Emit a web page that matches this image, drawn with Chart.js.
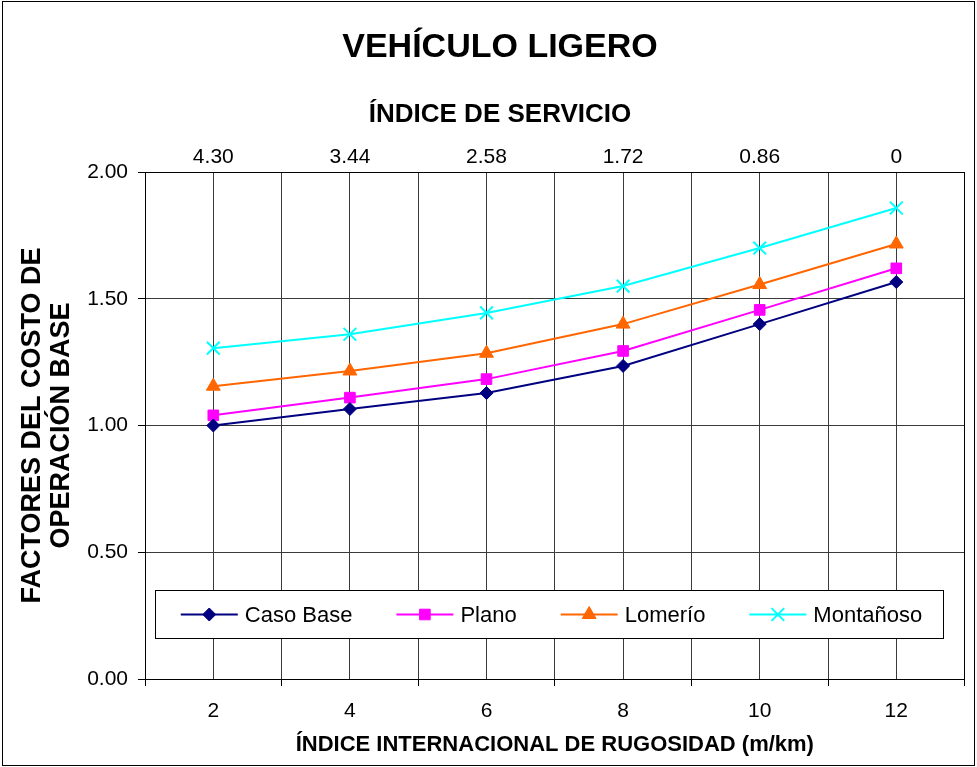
<!DOCTYPE html>
<html>
<head>
<meta charset="utf-8">
<title>Vehículo ligero</title>
<script src="https://cdn.jsdelivr.net/npm/chart.js@4/dist/chart.umd.min.js"></script>
<style>
	html, body { margin: 0; padding: 0; background: #fff; }
	canvas { display: block; }
</style>
</head>
<body>
<canvas id="chart__line--vl" width="977" height="767"></canvas>
<script>
// Data
const iriValues = [2, 4, 6, 8, 10, 12];
const serviceLabels = ["4.30", "3.44", "2.58", "1.72", "0.86", "0"];
const casoBase = [1.0, 1.065, 1.128, 1.235, 1.4, 1.566];
const plano = [1.04, 1.11, 1.183, 1.294, 1.456, 1.62];
const lomerio = [1.155, 1.215, 1.285, 1.4, 1.556, 1.716];
const montanoso = [1.305, 1.36, 1.444, 1.55, 1.7, 1.858];

const FONT = "'Liberation Sans', Arial, sans-serif";
const GRID = "#3a3a3a";

// Pair x and y values for a linear x axis
const toPoints = (values) => values.map((v, i) => ({ x: iriValues[i], y: v }));

const makeSeries = (label, values, color, pointStyle, radius) => ({
	label,
	data: toPoints(values),
	borderColor: color,
	backgroundColor: color,
	borderWidth: 2,
	pointStyle,
	pointRadius: radius,
	pointHoverRadius: radius,
	pointBorderWidth: pointStyle === "crossRot" ? 2 : 1,
	tension: 0,
});

// White page and thin frame round the whole picture
const framePlugin = () => ({
	id: "frame",
	beforeDraw: (chart) => {
		const ctx = chart.ctx;
		ctx.save();
		ctx.fillStyle = "#fff";
		ctx.fillRect(0, 0, chart.width, chart.height);
		ctx.restore();
	},
	afterDraw: (chart) => {
		const ctx = chart.ctx;
		ctx.save();
		ctx.strokeStyle = "#000";
		ctx.lineWidth = 1;
		ctx.strokeRect(2.5, 1.5, chart.width - 5, chart.height - 3);
		ctx.restore();
	},
});

// Boxed legend sitting inside the plot area, near the bottom
const boxLegendPlugin = () => ({
	id: "boxLegend",
	afterDatasetsDraw: (chart) => {
		const ctx = chart.ctx;
		const area = chart.chartArea;
		const box = { x: area.left + 10.5, y: area.bottom - 88.5, w: 788, h: 48 };
		const lineLen = 57;
		const textGap = 7;
		const midY = box.y + box.h / 2;
		ctx.save();
		ctx.fillStyle = "#fff";
		ctx.fillRect(box.x, box.y, box.w, box.h);
		ctx.strokeStyle = "#000";
		ctx.lineWidth = 1;
		ctx.strokeRect(box.x, box.y, box.w, box.h);

		ctx.font = `22px ${FONT}`;
		ctx.textBaseline = "middle";
		ctx.textAlign = "left";
		const sets = chart.data.datasets;
		const widths = sets.map((ds) => ctx.measureText(ds.label).width);
		const itemsW = widths.reduce((a, w) => a + w + lineLen + textGap, 0);
		const gap = 44;
		let x = box.x + (box.w - itemsW - gap * (sets.length - 1)) / 2 + 2;
		sets.forEach((ds, i) => {
			ctx.strokeStyle = ds.borderColor;
			ctx.fillStyle = ds.backgroundColor;
			ctx.lineWidth = 2;
			ctx.beginPath();
			ctx.moveTo(x, midY);
			ctx.lineTo(x + lineLen, midY);
			ctx.stroke();
			ctx.lineWidth = ds.pointBorderWidth;
			Chart.helpers.drawPoint(
				ctx,
				{ pointStyle: ds.pointStyle, radius: ds.pointRadius, borderWidth: ds.pointBorderWidth, rotation: 0 },
				x + lineLen / 2,
				midY
			);
			ctx.fillStyle = "#000";
			ctx.fillText(ds.label, x + lineLen + textGap, midY + 1);
			x += lineLen + textGap + widths[i] + gap;
		});
		ctx.restore();
	},
});

const getData = () => ({
	datasets: [
		makeSeries("Caso Base", casoBase, "#000080", "rectRot", 6.5),
		makeSeries("Plano", plano, "#FF00FF", "rect", 7.5),
		makeSeries("Lomerío", lomerio, "#FF6600", "triangle", 8),
		makeSeries("Montañoso", montanoso, "#00FFFF", "crossRot", 9),
	],
});

const getOptions = () => ({
	responsive: false,
	devicePixelRatio: 1,
	animation: false,
	layout: { padding: { left: 23, right: 0, top: 0, bottom: 0 } },
	plugins: {
		legend: { display: false },
		tooltip: { enabled: false },
		title: {
			display: true,
			text: "VEHÍCULO LIGERO",
			color: "#000",
			font: { family: FONT, size: 34, weight: "bold", lineHeight: 1.2 },
			padding: { top: 27, bottom: 0 },
		},
		subtitle: {
			display: true,
			text: "ÍNDICE DE SERVICIO",
			color: "#000",
			font: { family: FONT, size: 26, weight: "bold", lineHeight: 1.2 },
			padding: { top: 31.6, bottom: 0 },
		},
	},
	scales: {
		x: {
			type: "linear",
			position: "bottom",
			min: 1,
			max: 13,
			afterFit: (s) => { s.height = 88; },
			ticks: {
				stepSize: 1,
				autoSkip: false,
				maxRotation: 0,
				padding: 12.4,
				color: "#000",
				font: { family: FONT, size: 21 },
				callback: (v) => (v % 2 === 0 ? String(v) : ""),
			},
			grid: {
				color: GRID,
				lineWidth: 1,
				tickLength: 7,
				tickColor: (c) => (c.tick && c.tick.value % 2 === 1 ? "#000" : "rgba(0,0,0,0)"),
			},
			border: { display: true, color: "#000", width: 1 },
			title: {
				display: true,
				text: "ÍNDICE INTERNACIONAL DE RUGOSIDAD (m/km)",
				color: "#000",
				font: { family: FONT, size: 22, weight: "bold", lineHeight: 1.2 },
				padding: { top: 0, bottom: 8.8 },
			},
		},
		x2: {
			type: "linear",
			position: "top",
			min: 1,
			max: 13,
			afterFit: (s) => { s.height = 41.4; },
			ticks: {
				stepSize: 1,
				autoSkip: false,
				maxRotation: 0,
				padding: 2.4,
				color: "#000",
				font: { family: FONT, size: 21 },
				callback: (v) => (v % 2 === 0 ? serviceLabels[v / 2 - 1] : ""),
			},
			grid: { display: false, drawTicks: false },
			border: { display: true, color: "#000", width: 1 },
		},
		y: {
			type: "linear",
			position: "left",
			min: 0,
			max: 2,
			afterFit: (s) => { s.width = 122; },
			ticks: {
				stepSize: 0.5,
				padding: 10,
				color: "#000",
				font: { family: FONT, size: 21 },
				callback: (v) => v.toFixed(2),
			},
			grid: { color: GRID, lineWidth: 1, tickLength: 7, tickColor: "#000" },
			border: { display: true, color: "#000", width: 1 },
			title: {
				display: true,
				text: ["FACTORES DEL COSTO DE", "OPERACIÓN BASE"],
				color: "#000",
				font: { family: FONT, size: 27, weight: "bold", lineHeight: 1.07 },
				padding: { top: -4.5, bottom: 0 },
			},
		},
		yR: {
			type: "linear",
			position: "right",
			min: 0,
			max: 2,
			afterFit: (s) => { s.width = 12; },
			ticks: { display: false },
			grid: { display: false, drawTicks: false },
			border: { display: true, color: "#000", width: 1 },
		},
	},
});

const initChart = () => {
	const ctx = document.getElementById("chart__line--vl");
	if (!ctx) return;
	Chart.defaults.font.family = FONT;
	new Chart(ctx, {
		type: "line",
		data: getData(),
		options: getOptions(),
		plugins: [framePlugin(), boxLegendPlugin()],
	});
};

initChart();
</script>
</body>
</html>
